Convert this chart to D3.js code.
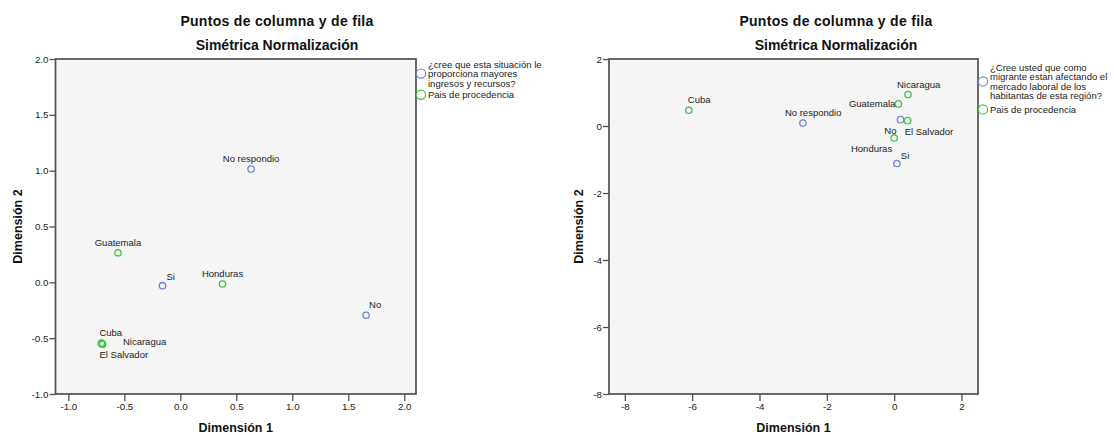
<!DOCTYPE html>
<html>
<head>
<meta charset="utf-8">
<script src="https://cdn.jsdelivr.net/npm/d3@7"></script>
<style>
  body { margin: 0; background: #fff; }
  svg { display: block; font-family: "Liberation Sans", Arial, sans-serif; }
</style>
</head>
<body>
<svg id="chart" width="1114" height="435"></svg>
<script>
// left chart: ¿cree que esta situación le proporciona mayores ingresos y recursos?
const leftRowLabels = ["No respondio", "Si", "No"];
const leftRowDim1 = [0.632, -0.159, 1.659];
const leftRowDim2 = [1.015, -0.03, -0.295];
const leftColLabels = ["Guatemala", "Honduras", "Cuba", "Nicaragua", "El Salvador"];
const leftColDim1 = [-0.557, 0.377, -0.705, -0.70, -0.695];
const leftColDim2 = [0.265, -0.015, -0.545, -0.55, -0.555];
const leftXTicks = [-1.0, -0.5, 0.0, 0.5, 1.0, 1.5, 2.0];
const leftYTicks = [-1.0, -0.5, 0.0, 0.5, 1.0, 1.5, 2.0];
const leftLegend = ["¿cree que esta situación le", "proporciona mayores", "ingresos y recursos?"];

// right chart: ¿Cree usted que como migrante estan afectando el mercado laboral...?
const rightRowLabels = ["No respondio", "No", "Si"];
const rightRowDim1 = [-2.71, 0.187, 0.08];
const rightRowDim2 = [0.09, 0.19, -1.12];
const rightColLabels = ["Cuba", "Nicaragua", "Guatemala", "El Salvador", "Honduras"];
const rightColDim1 = [-6.10, 0.41, 0.125, 0.40, 0.0];
const rightColDim2 = [0.47, 0.94, 0.66, 0.16, -0.36];
const rightXTicks = [-8, -6, -4, -2, 0, 2];
const rightYTicks = [-8, -6, -4, -2, 0, 2];
const rightLegend = ["¿Cree usted que como", "migrante estan afectando el", "mercado laboral de los", "habitantas de esta región?"];

const colLegend = "Pais de procedencia";
const title = "Puntos de columna y de fila";
const subtitle = "Simétrica Normalización";

const rowColor = "#6f85d2";
const colColor = "#3fc43f";
const frameColor = "#505050";

// label placement: [dx, dy, anchor]
const leftPlace = {
  "No respondio": [0, -7, "middle"], "Si": [4, -6, "start"], "No": [3, -7, "start"],
  "Guatemala": [0, -7, "middle"], "Honduras": [0, -7, "middle"],
  "Cuba": [-2, -7, "start"], "Nicaragua": [21, 1, "start"], "El Salvador": [-3, 14, "start"]
};
const rightPlace = {
  "No respondio": [-18, -7, "start"], "No": [-4, 14, "end"], "Si": [4, -5, "start"],
  "Cuba": [-1, -7, "start"], "Nicaragua": [-11, -7, "start"], "Guatemala": [-3, 3, "end"],
  "El Salvador": [-3, 14, "start"], "Honduras": [-2, 14, "end"]
};

const svg = d3.select("#chart");
const fmtMinus = f => d => f(d).replace("\u2212", "-");

function drawPanel(cfg) {
  const g = svg.append("g");
  const x = d3.scaleLinear().domain(cfg.xDomain).range([cfg.left, cfg.right]);
  const y = d3.scaleLinear().domain(cfg.yDomain).range([cfg.bottom, cfg.top]);

  g.append("text").attr("x", cfg.center).attr("y", 25.5)
    .attr("text-anchor", "middle").attr("font-size", 14).attr("font-weight", "bold")
    .attr("letter-spacing", 0.3).attr("fill", "#111").text(title);
  g.append("text").attr("x", cfg.center).attr("y", 49.5)
    .attr("text-anchor", "middle").attr("font-size", 14).attr("font-weight", "bold")
    .attr("fill", "#111").text(subtitle);

  g.append("rect")
    .attr("x", cfg.left).attr("y", cfg.top)
    .attr("width", cfg.right - cfg.left).attr("height", cfg.bottom - cfg.top)
    .attr("fill", "#f5f5f5");

  const xa = g.append("g").attr("transform", "translate(0," + cfg.bottom + ")")
    .call(d3.axisBottom(x).tickValues(cfg.xTicks).tickSize(7).tickPadding(2).tickFormat(fmtMinus(cfg.fmt)));
  const ya = g.append("g").attr("transform", "translate(" + cfg.left + ",0)")
    .call(d3.axisLeft(y).tickValues(cfg.yTicks).tickSize(6).tickPadding(1).tickFormat(fmtMinus(cfg.fmt)));
  [xa, ya].forEach(a => {
    a.select(".domain").remove();
    a.selectAll(".tick line").attr("stroke", frameColor).attr("stroke-width", 1.3);
    a.selectAll(".tick text").attr("font-size", 9.8).attr("fill", "#222")
      .attr("font-family", "Liberation Sans, Arial, sans-serif");
  });

  g.append("rect")
    .attr("x", cfg.left).attr("y", cfg.top)
    .attr("width", cfg.right - cfg.left).attr("height", cfg.bottom - cfg.top)
    .attr("fill", "none").attr("stroke", frameColor).attr("stroke-width", 1.7);

  g.append("text").attr("x", (cfg.left + cfg.right) / 2).attr("y", 432)
    .attr("text-anchor", "middle").attr("font-size", 12.5).attr("font-weight", "bold")
    .attr("fill", "#111").text("Dimensión 1");
  g.append("text")
    .attr("transform", "translate(" + cfg.yTitleX + "," + (cfg.top + cfg.bottom) / 2 + ") rotate(-90)")
    .attr("text-anchor", "middle").attr("font-size", 12.5).attr("font-weight", "bold")
    .attr("fill", "#111").text("Dimensión 2");

  const pts = [];
  cfg.rowLabels.forEach((l, i) => pts.push({ label: l, d1: cfg.rowDim1[i], d2: cfg.rowDim2[i], color: rowColor }));
  cfg.colLabels.forEach((l, i) => pts.push({ label: l, d1: cfg.colDim1[i], d2: cfg.colDim2[i], color: colColor }));

  g.selectAll("circle.pt").data(pts).enter().append("circle")
    .attr("class", "pt")
    .attr("cx", d => x(d.d1)).attr("cy", d => y(d.d2)).attr("r", 3.2)
    .attr("fill", "none").attr("stroke", d => d.color).attr("stroke-width", 1.3);

  g.selectAll("text.lbl").data(pts).enter().append("text")
    .attr("class", "lbl")
    .attr("x", d => x(d.d1) + cfg.place[d.label][0])
    .attr("y", d => y(d.d2) + cfg.place[d.label][1])
    .attr("text-anchor", d => cfg.place[d.label][2])
    .attr("font-size", 9.5).attr("fill", "#222")
    .text(d => d.label);

  // legend
  const lx = cfg.right + 5;
  const lines = cfg.legend;
  const lh = 9.6;
  const firstY = cfg.legendTop;
  lines.forEach((t, i) => {
    g.append("text").attr("x", lx + 7).attr("y", firstY + i * lh + 3.5)
      .attr("font-size", 9.5).attr("fill", "#222").text(t);
  });
  g.append("circle").attr("cx", lx).attr("cy", firstY + (lines.length - 1) * lh / 2)
    .attr("r", 4.6).attr("fill", "none").attr("stroke", rowColor).attr("stroke-width", 1.2);
  const gy = firstY + lines.length * lh + 2 + (lines.length > 3 ? 2 : 0);
  g.append("circle").attr("cx", lx).attr("cy", gy)
    .attr("r", 4.6).attr("fill", "none").attr("stroke", colColor).attr("stroke-width", 1.2);
  g.append("text").attr("x", lx + 7).attr("y", gy + 3.5)
    .attr("font-size", 9.5).attr("fill", "#222").text(colLegend);
}

drawPanel({
  left: 55.5, right: 416, top: 59, bottom: 394, center: 277, yTitleX: 22,
  xDomain: [-1.115, 2.105], yDomain: [-1, 2],
  xTicks: leftXTicks, yTicks: leftYTicks, fmt: d3.format(".1f"),
  rowLabels: leftRowLabels, rowDim1: leftRowDim1, rowDim2: leftRowDim2,
  colLabels: leftColLabels, colDim1: leftColDim1, colDim2: leftColDim2,
  place: leftPlace, legend: leftLegend, legendTop: 64
});

drawPanel({
  left: 609, right: 978, top: 59, bottom: 394, center: 836, yTitleX: 583,
  xDomain: [-8.47, 2.49], yDomain: [-8, 2],
  xTicks: rightXTicks, yTicks: rightYTicks, fmt: d3.format("d"),
  rowLabels: rightRowLabels, rowDim1: rightRowDim1, rowDim2: rightRowDim2,
  colLabels: rightColLabels, colDim1: rightColDim1, colDim2: rightColDim2,
  place: rightPlace, legend: rightLegend, legendTop: 67
});
</script>
</body>
</html>
